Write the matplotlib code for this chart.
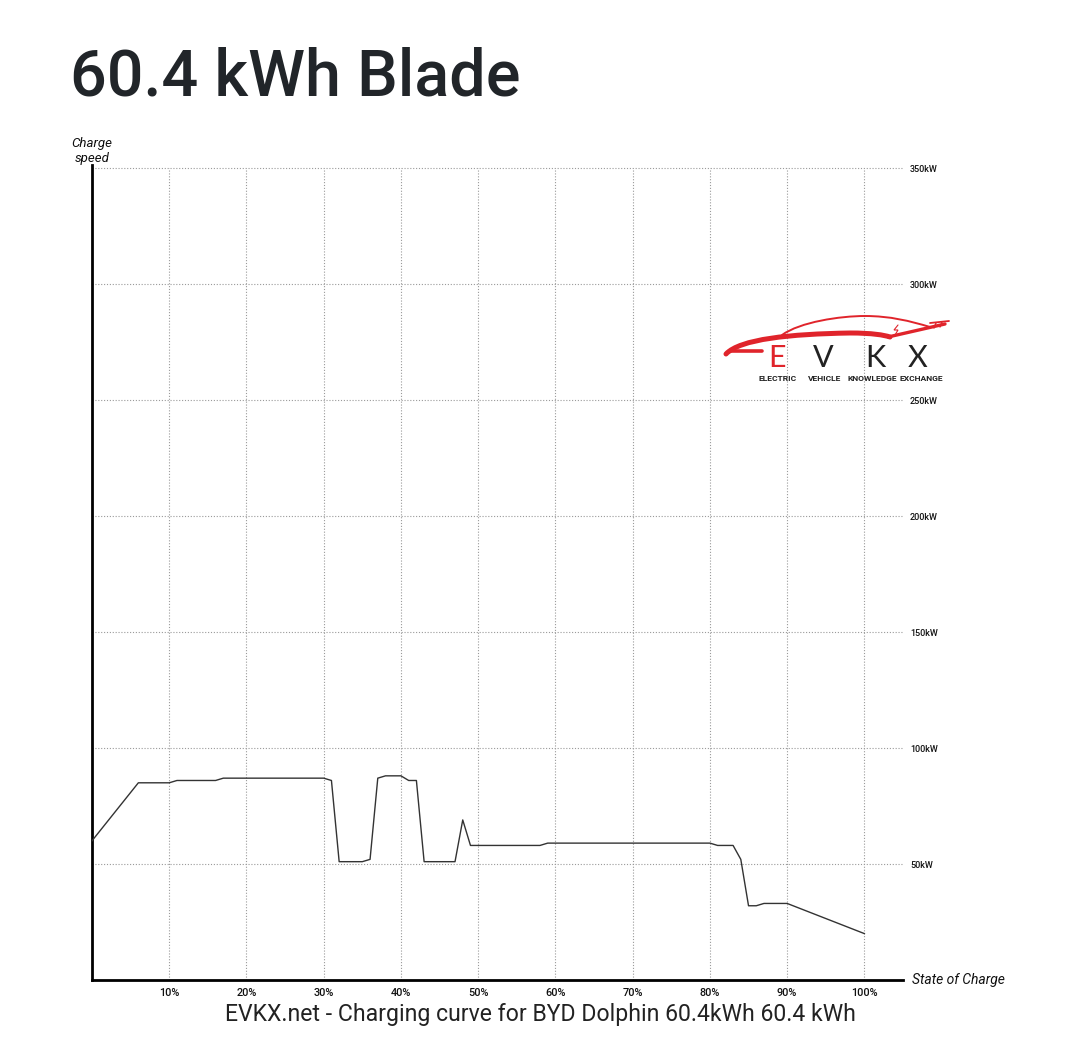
import matplotlib
matplotlib.use("Agg")
import matplotlib.pyplot as plt
from matplotlib.path import Path
from matplotlib.patches import PathPatch
from matplotlib.transforms import Affine2D

# ---- data ----
soc = [0, 6, 10, 11, 16, 17, 30, 31, 32, 35, 36, 37, 38, 40, 41, 42, 43, 47, 48, 49,
       58, 59, 80, 81, 83, 84, 85, 86, 87, 90, 100]
power = [60, 85, 85, 86, 86, 87, 87, 86, 51, 51, 52, 87, 88, 88, 86, 86, 51, 51, 69, 58,
         58, 59, 59, 58, 58, 52, 32, 32, 33, 33, 20]
x_ticks = [10, 20, 30, 40, 50, 60, 70, 80, 90, 100]
x_labels = ["10%", "20%", "30%", "40%", "50%", "60%", "70%", "80%", "90%", "100%"]
y_ticks = [50, 100, 150, 200, 250, 300, 350]
y_labels = ["50kW", "100kW", "150kW", "200kW", "250kW", "300kW", "350kW"]
title = "60.4 kWh Blade"
caption = "EVKX.net - Charging curve for BYD Dolphin 60.4kWh 60.4 kWh"
logo_letters = ["E", "V", "K", "X"]
logo_words = ["ELECTRIC", "VEHICLE", "KNOWLEDGE", "EXCHANGE"]

W, H = 1079, 1042
fig = plt.figure(figsize=(W / 100, H / 100), dpi=100)
fig.patch.set_facecolor("white")
plt.rcParams["font.family"] = ["Roboto", "DejaVu Sans"]

pix = Affine2D().scale(1 / W, -1 / H).translate(0, 1) + fig.transFigure

def fx(px):
    return px / W

def fy(py):
    return 1 - py / H

left, right, bottom, top = 92, 903, 980, 165
ax = fig.add_axes([fx(left), fy(bottom), (right - left) / W, (bottom - top) / H])
ax.set_xlim(0, 105)
ax.set_ylim(0, (bottom - top) / 2.32)

# grid
gcol = "#9a9a9a"
ax.hlines(y_ticks, 0, 105, colors=gcol, linestyles=(0, (1, 1.6)), linewidth=0.8, zorder=1)
ax.vlines(x_ticks, 0, 350, colors=gcol, linestyles=(0, (1, 1.6)), linewidth=0.8, zorder=1)

ax.plot(soc, power, color="#333333", linewidth=1.0, zorder=3)

for s in ["top", "right"]:
    ax.spines[s].set_visible(False)
for s in ["left", "bottom"]:
    ax.spines[s].set_linewidth(2)
    ax.spines[s].set_color("black")

ax.set_xticks(x_ticks)
ax.set_xticklabels(x_labels)
ax.yaxis.tick_right()
ax.set_yticks(y_ticks)
ax.set_yticklabels(y_labels)
ax.tick_params(axis="both", length=0, colors="#111111")
ax.tick_params(axis="x", pad=6, labelsize=7.8)
ax.tick_params(axis="y", pad=5, labelsize=6.5)
for lab in ax.get_xticklabels() + ax.get_yticklabels():
    lab.set_fontweight("medium")

# texts
fig.text(fx(70), fy(96), title, fontsize=46.5, fontweight="medium", color="#212529",
         ha="left", va="baseline")
fig.text(fx(92), fy(151), "Charge\nspeed", fontsize=9.5, style="italic", color="#111111",
         ha="center", va="center", linespacing=1.15)
fig.text(fx(912), fy(980), "State of Charge", fontsize=10, style="italic", color="#111111",
         ha="left", va="center")
fig.text(fx(540), fy(1015), caption, fontsize=16.6, color="#222222", ha="center", va="center")

# ---- logo ----
red = "#e0242b"

def stroke(pts, codes, lw, col=red):
    fig.patches.append(PathPatch(Path(pts, codes), facecolor="none", edgecolor=col, lw=lw,
                                 capstyle="round", transform=pix, figure=fig))

C4 = Path.CURVE4
M = Path.MOVETO
L = Path.LINETO
# belt line (thick, front to rear)
stroke([(726, 354), (740, 339), (790, 334), (850, 333), (872, 333), (884, 335), (890, 337)],
       [M, C4, C4, C4, C4, C4, C4], 3.6)
stroke([(888, 337), (945, 324)], [M, L], 2.4)
# roof line (thin)
stroke([(782, 335), (800, 322), (840, 316), (865, 316), (890, 316), (910, 321), (930, 327)],
       [M, C4, C4, C4, C4, C4, C4], 1.4)
# front band joining the E
stroke([(729, 351), (762, 351)], [M, L], 2.6)
# spoiler
stroke([(930, 323), (949, 321)], [M, L], 1.3)
stroke([(936, 323), (934, 328)], [M, L], 1.0)
stroke([(942, 322), (940, 327)], [M, L], 1.0)
# bolt
stroke([(898, 325), (894, 330), (898, 330), (895, 335)], [M, L, L, L], 0.8)

for ch, cx, col in zip(logo_letters, [777, 823, 875, 918], [red, "#222222", "#222222", "#222222"]):
    fig.text(fx(cx), fy(358), ch, fontsize=22, color=col, ha="center", va="center",
             family=["Lato", "DejaVu Sans"], fontweight="normal")
for word, cx in zip(logo_words, [778, 825, 872, 921]):
    fig.text(fx(cx), fy(378), word, fontsize=6.1, fontweight="bold", color="#222222",
             ha="center", va="center", family=["Roboto", "DejaVu Sans"])

fig.savefig("out.png", dpi=100, facecolor="white")
